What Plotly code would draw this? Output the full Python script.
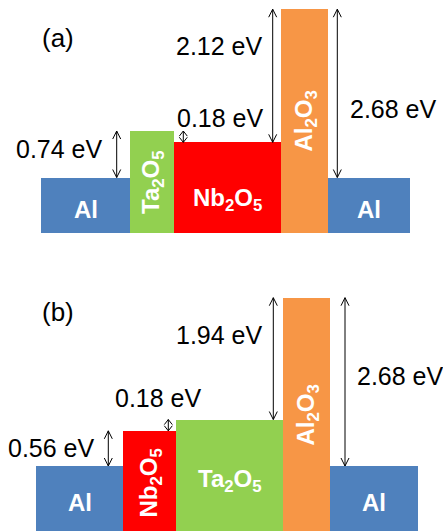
import plotly.graph_objects as go

W, H = 443, 531

# Conduction-band / Fermi levels in eV, measured from the Al Fermi level
layers_a = ["Al", "Ta2O5", "Nb2O5", "Al2O3", "Al"]
levels_a = [0.0, 0.74, 0.56, 2.68, 0.0]

layers_b = ["Al", "Nb2O5", "Ta2O5", "Al2O3", "Al"]
levels_b = [0.0, 0.56, 0.74, 2.68, 0.0]

# Barrier offsets marked with double arrows: (lower layer, upper layer)
offsets_a = [(0, 1), (2, 1), (2, 3), (4, 3)]
offsets_b = [(0, 1), (1, 2), (2, 3), (4, 3)]

COLORS = {"Al": "#4F81BD", "Ta2O5": "#92D050", "Nb2O5": "#FF0000", "Al2O3": "#F79646"}
NAMES = {
    "Al": "Al",
    "Ta2O5": "Ta<sub>2</sub>O<sub>5</sub>",
    "Nb2O5": "Nb<sub>2</sub>O<sub>5</sub>",
    "Al2O3": "Al<sub>2</sub>O<sub>3</sub>",
}
ROTATED = {"a": ["Ta2O5", "Al2O3"], "b": ["Nb2O5", "Al2O3"]}

FONT = "Liberation Sans, Arial, sans-serif"
PX_PER_EV = 62.8

# Geometry of the two panels (pixels)
panels = {
    "a": dict(
        layers=layers_a, levels=levels_a, offsets=offsets_a,
        edges=[41, 130, 174, 281, 328, 410], zero_px=177.5, bottom_px=233,
        dom_px=(0, 252), xax="x", yax="y",
        arrow_x=[116.7, 183.3, 272.7, 337.3],
        lab_pos=[(105, 149, "right"), (220, 118, "center"), (265, 46, "right"), (348, 109, "left")],
        name_y=[209, 182, 199, 121, 209],
        tag=("(a)", 40, 38),
    ),
    "b": dict(
        layers=layers_b, levels=levels_b, offsets=offsets_b,
        edges=[36, 123, 176, 283, 330, 418], zero_px=466, bottom_px=560,
        dom_px=(258, 531), xax="x2", yax="y2",
        arrow_x=[108.3, 168.3, 273.3, 345.0],
        lab_pos=[(97, 448, "right"), (158, 398, "center"), (265, 335, "right"), (355, 376, "left")],
        name_y=[502, 483, 480, 415, 502],
        tag=("(b)", 40, 312),
    ),
}

fig = go.Figure()
shapes, annotations = [], []
layout_axes = {}

HEAD_LEN, HEAD_HW = 8, 4  # arrowhead size in px

for key, p in panels.items():
    z = p["zero_px"]

    def to_ev(ypx, z=z):
        return (z - ypx) / PX_PER_EV

    base = to_ev(p["bottom_px"])
    edges = p["edges"]
    centers = [(edges[i] + edges[i + 1]) / 2 for i in range(len(p["layers"]))]
    widths = [edges[i + 1] - edges[i] for i in range(len(p["layers"]))]

    fig.add_trace(go.Bar(
        x=centers, width=widths, base=base,
        y=[lv - base for lv in p["levels"]],
        marker=dict(color=[COLORS[m] for m in p["layers"]], line=dict(width=0)),
        xaxis=p["xax"], yaxis=p["yax"], hoverinfo="skip", showlegend=False,
    ))

    d0, d1 = p["dom_px"]
    yname = "yaxis" if p["yax"] == "y" else "yaxis2"
    xname = "xaxis" if p["xax"] == "x" else "xaxis2"
    layout_axes[yname] = dict(domain=[1 - d1 / H, 1 - d0 / H], range=[to_ev(d1), to_ev(d0)],
                              visible=False, anchor=p["xax"], fixedrange=True)
    layout_axes[xname] = dict(domain=[0, 1], range=[0, W], visible=False,
                              anchor=p["yax"], fixedrange=True)

    # Material names inside the blocks
    for i, m in enumerate(p["layers"]):
        rot = m in ROTATED[key]
        annotations.append(dict(
            x=centers[i], y=to_ev(p["name_y"][i]), xref=p["xax"], yref=p["yax"],
            text="<b>" + NAMES[m] + "</b>", showarrow=False, textangle=-90 if rot else 0,
            font=dict(family=FONT, size=24, color="white"),
            xanchor="center", yanchor="middle",
        ))

    # Double arrows for the barrier offsets, labelled with their height
    for (lo, hi), ax, (lx, ly, anc) in zip(p["offsets"], p["arrow_x"], p["lab_pos"]):
        y0, y1 = p["levels"][lo], p["levels"][hi]
        span_px = (y1 - y0) * PX_PER_EV
        hl = min(HEAD_LEN, 0.45 * span_px) / PX_PER_EV
        hw = HEAD_HW
        path = (f"M {ax},{y0} L {ax},{y1} "
                f"M {ax - hw},{y1 - hl} L {ax},{y1} L {ax + hw},{y1 - hl} "
                f"M {ax - hw},{y0 + hl} L {ax},{y0} L {ax + hw},{y0 + hl}")
        shapes.append(dict(type="path", path=path, xref=p["xax"], yref=p["yax"],
                           line=dict(color="black", width=1)))
        annotations.append(dict(
            x=lx, y=to_ev(ly), xref=p["xax"], yref=p["yax"],
            text=f"{y1 - y0:.2f} eV", showarrow=False,
            font=dict(family=FONT, size=25, color="black"),
            xanchor=anc, yanchor="middle",
        ))

    tag, tx, ty = p["tag"]
    annotations.append(dict(
        x=tx, y=to_ev(ty), xref=p["xax"], yref=p["yax"], text=tag, showarrow=False,
        font=dict(family=FONT, size=26, color="black"), xanchor="left", yanchor="middle",
    ))

fig.update_layout(
    width=W, height=H, autosize=False,
    margin=dict(l=0, r=0, t=0, b=0),
    paper_bgcolor="white", plot_bgcolor="white",
    barmode="overlay", bargap=0,
    shapes=shapes, annotations=annotations,
    **layout_axes,
)

fig.write_html("out.html", config={"displayModeBar": False})
